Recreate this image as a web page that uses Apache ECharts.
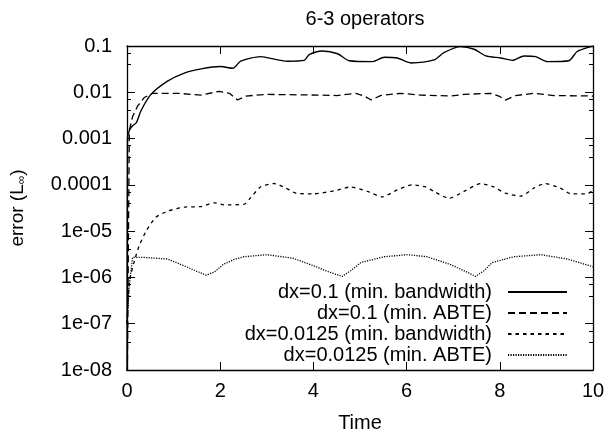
<!DOCTYPE html>
<html>
<head>
<meta charset="utf-8">
<script src="https://cdn.jsdelivr.net/npm/echarts@6/dist/echarts.min.js"></script>
<style>
html,body{margin:0;padding:0;background:#fff;}
#c{width:609px;height:438px;}
</style>
</head>
<body>
<div id="c"></div>
<script>
var titleText = '6-3 operators';
var xTickLabels = ['0','2','4','6','8','10'];
var yTickLabels = ['1e-08','1e-07','1e-06','1e-05','0.0001','0.001','0.01','0.1'];
var seriesNames = ['dx=0.1 (min. bandwidth)','dx=0.1 (min. ABTE)','dx=0.0125 (min. bandwidth)','dx=0.0125 (min. ABTE)'];

var bwCoarseT = [0, 0.01, 0.05, 0.12, 0.2, 0.3, 0.51, 0.87, 1.23, 1.59, 2.01, 2.27, 2.44, 2.87, 3.23, 3.44, 3.8, 3.91, 4.19, 4.52, 4.77, 5.27, 5.52, 5.8, 6.09, 6.59, 6.8, 7.16, 7.45, 7.7, 8.02, 8.27, 8.52, 8.77, 9.02, 9.48, 9.66, 9.95, 10];
var bwCoarseV = [1e-9, 0.001, 0.0015, 0.0019, 0.0022, 0.004, 0.0089, 0.0174, 0.026, 0.032, 0.036, 0.033, 0.047, 0.059, 0.05, 0.047, 0.049, 0.065, 0.078, 0.068, 0.048, 0.046, 0.057, 0.055, 0.043, 0.05, 0.072, 0.097, 0.085, 0.061, 0.055, 0.049, 0.061, 0.059, 0.046, 0.048, 0.076, 0.097, 0.098];

var abteCoarseT = [0, 0.05, 0.12, 0.23, 0.37, 0.55, 1.1, 1.59, 1.98, 2.2, 2.37, 2.55, 3.0, 4.1, 4.5, 4.91, 5.09, 5.24, 5.44, 5.87, 6.3, 6.94, 7.23, 7.8, 7.98, 8.12, 8.34, 8.73, 9.16, 10];
var abteCoarseV = [1e-9, 0.0015, 0.003, 0.0051, 0.0077, 0.0095, 0.0095, 0.0087, 0.0105, 0.0095, 0.0068, 0.0083, 0.009, 0.0087, 0.0085, 0.0095, 0.0083, 0.0068, 0.0085, 0.0095, 0.0087, 0.0083, 0.009, 0.0095, 0.0083, 0.0068, 0.0085, 0.0095, 0.0085, 0.0083];

var bwFineT = [0, 0.05, 0.16, 0.26, 0.41, 0.62, 0.87, 1.23, 1.59, 1.87, 2.08, 2.51, 2.62, 2.87, 3.16, 3.41, 3.63, 4.0, 4.44, 4.8, 5.16, 5.48, 5.8, 6.12, 6.41, 6.59, 6.91, 7.23, 7.59, 7.87, 8.12, 8.45, 8.73, 8.97, 9.3, 9.52, 9.88, 10];
var bwFineV = [1e-7, 8e-7, 2.3e-6, 4.8e-6, 1e-5, 2e-5, 2.7e-5, 3.3e-5, 3.4e-5, 4.1e-5, 3.7e-5, 3.8e-5, 4.8e-5, 9.1e-5, 1.07e-4, 8.5e-5, 6.6e-5, 6.4e-5, 7.4e-5, 9e-5, 7.2e-5, 5.5e-5, 7.8e-5, 1.0e-4, 9e-5, 7.2e-5, 5.1e-5, 7.2e-5, 1.07e-4, 9e-5, 6.6e-5, 5.7e-5, 8.5e-5, 1.07e-4, 8.5e-5, 6.4e-5, 6.4e-5, 7.8e-5];

var abteFineT = [0, 0.05, 0.12, 0.37, 0.87, 1.3, 1.5, 1.7, 1.87, 2.08, 2.3, 2.51, 3.0, 3.56, 4.06, 4.3, 4.62, 4.8, 5.02, 5.52, 6.02, 6.44, 6.94, 7.3, 7.48, 7.66, 7.84, 8.3, 8.88, 9.45, 10];
var abteFineV = [1e-7, 7e-7, 2.7e-6, 2.7e-6, 2.5e-6, 1.66e-6, 1.35e-6, 1.12e-6, 1.3e-6, 1.95e-6, 2.45e-6, 2.8e-6, 3.1e-6, 2.6e-6, 1.7e-6, 1.35e-6, 1.05e-6, 1.4e-6, 2.1e-6, 2.8e-6, 3.1e-6, 2.8e-6, 1.9e-6, 1.3e-6, 1.05e-6, 1.4e-6, 2.1e-6, 2.8e-6, 3.1e-6, 2.5e-6, 1.7e-6];

function pairs(t, v) { return t.map(function (x, i) { return [x, v[i]]; }); }

var FONT = '"Liberation Sans", Arial, Helvetica, sans-serif';
var BLACK = '#000';

var chart = echarts.init(document.getElementById('c'), null, {renderer: 'canvas'});

function yLabel(val) {
  var e = Math.round(Math.log10(val));
  var idx = e + 8;
  return yTickLabels[idx] !== undefined ? yTickLabels[idx] : '';
}

var axisLineStyle = {color: BLACK, width: 1.3};

var option = {
  backgroundColor: '#fff',
  animation: false,
  title: {
    text: titleText,
    left: 360,
    textAlign: 'center',
    top: 4,
    textStyle: {fontFamily: FONT, fontSize: 20, fontWeight: 'normal', color: BLACK}
  },
  grid: {left: 126, right: 16, top: 46, bottom: 64, containLabel: false},
  legend: {
    orient: 'vertical',
    right: 41,
    top: 282,
    padding: 0,
    itemGap: 1,
    itemWidth: 59,
    itemHeight: 14,
    align: 'right',
    itemStyle: {opacity: 0},
    textStyle: {fontFamily: FONT, fontSize: 20, color: BLACK, padding: [0, 11, 0, 0]},
    data: seriesNames
  },
  xAxis: [{
    type: 'value', min: 0, max: 10, interval: 2,
    name: 'Time', nameLocation: 'middle', nameGap: 43,
    nameTextStyle: {fontFamily: FONT, fontSize: 20, color: BLACK},
    axisLine: {show: true, onZero: false, lineStyle: axisLineStyle},
    axisTick: {show: true, inside: true, length: 8, lineStyle: {color: BLACK, width: 1}},
    axisLabel: {fontFamily: FONT, fontSize: 20, color: BLACK, margin: 11,
      formatter: function (v) { return xTickLabels[Math.round(v / 2)]; }},
    splitLine: {show: false}
  }, {
    type: 'value', min: 0, max: 10, interval: 2, position: 'top',
    axisLine: {show: true, onZero: false, lineStyle: axisLineStyle},
    axisTick: {show: true, inside: true, length: 8, lineStyle: {color: BLACK, width: 1}},
    axisLabel: {show: false}, splitLine: {show: false}
  }],
  yAxis: [{
    type: 'log', logBase: 10, min: 1e-8, max: 0.1,
    name: 'error (L{sub|∞})', nameLocation: 'middle', nameGap: 99, nameRotate: 90,
    nameTextStyle: {fontFamily: FONT, fontSize: 19, color: BLACK,
      rich: {sub: {fontFamily: FONT, fontSize: 12, color: BLACK, verticalAlign: 'bottom', padding: [9, 0, 0, 0]}}},
    axisLine: {show: true, onZero: false, lineStyle: axisLineStyle},
    axisTick: {show: true, inside: true, length: 8, lineStyle: {color: BLACK, width: 1}},
    minorTick: {show: true, splitNumber: 3, length: 4, lineStyle: {color: BLACK, width: 1}},
    axisLabel: {fontFamily: FONT, fontSize: 20, color: BLACK, margin: 15, formatter: yLabel},
    splitLine: {show: false}, minorSplitLine: {show: false}
  }, {
    type: 'log', logBase: 10, min: 1e-8, max: 0.1, position: 'right',
    axisLine: {show: true, onZero: false, lineStyle: axisLineStyle},
    axisTick: {show: true, inside: true, length: 8, lineStyle: {color: BLACK, width: 1}},
    minorTick: {show: true, splitNumber: 3, length: 4, lineStyle: {color: BLACK, width: 1}},
    axisLabel: {show: false}, splitLine: {show: false}
  }],
  series: [
    {name: seriesNames[0], type: 'line', data: pairs(bwCoarseT, bwCoarseV), symbol: 'none', clip: true,
      smooth: 0.25, lineStyle: {color: BLACK, width: 1.4, type: 'solid'}, itemStyle: {color: BLACK}},
    {name: seriesNames[1], type: 'line', data: pairs(abteCoarseT, abteCoarseV), symbol: 'none', clip: true,
      lineStyle: {color: BLACK, width: 1.3, type: [7, 4]}, itemStyle: {color: BLACK}},
    {name: seriesNames[2], type: 'line', data: pairs(bwFineT, bwFineV), symbol: 'none', clip: true,
      smooth: 0.2, lineStyle: {color: BLACK, width: 1.3, type: [3.5, 4]}, itemStyle: {color: BLACK}},
    {name: seriesNames[3], type: 'line', data: pairs(abteFineT, abteFineV), symbol: 'none', clip: true,
      lineStyle: {color: BLACK, width: 1.3, type: [1.2, 1.3]}, itemStyle: {color: BLACK}}
  ]
};
chart.setOption(option);
</script>
</body>
</html>
